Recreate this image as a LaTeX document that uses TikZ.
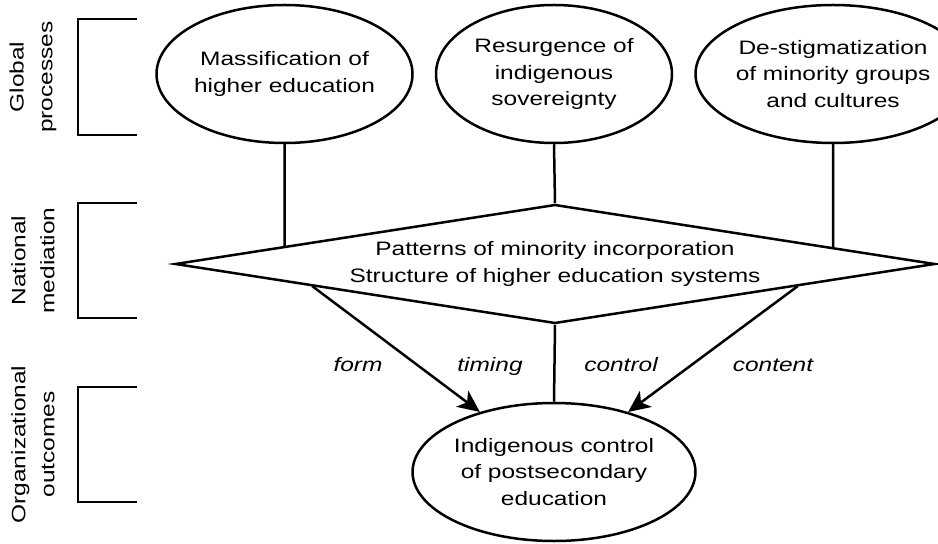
\documentclass[tikz,border=0pt]{standalone}
\usepackage{fontspec}
\setmainfont{Liberation Sans}[FakeStretch=1.26]
\usetikzlibrary{positioning,arrows.meta,shapes.geometric,calc}

\begin{document}
\begin{tikzpicture}[x=1bp,y=-1bp,node distance=21bp,
  oval/.style={draw,ellipse,line width=2.5bp,minimum width=236bp,minimum height=138bp,inner sep=0pt,align=center,font=\fontsize{19.5}{27}\selectfont},
  link/.style={line width=2.5bp},
  arr/.style={-{Stealth[length=22bp,width=20bp,inset=6bp]},line width=2.5bp},
  tag/.style={anchor=base,font=\fontsize{19.5}{27}\selectfont\itshape},
  level/.style={rotate=90,align=center,font=\fontsize{19.5}{29}\selectfont}]
\useasboundingbox (0,0) rectangle (938,544);
\node[oval] (resurgence) at (554,74) {Resurgence of\\indigenous\\sovereignty};
\node[oval,left=of resurgence] (mass) {Massification of\\higher education};
\node[oval,right=of resurgence] (destig) {De-stigmatization\\of minority groups\\and cultures};
\node[draw,diamond,line width=2.5bp,minimum width=760bp,minimum height=119bp,aspect=6.4,inner sep=0pt,align=center,font=\fontsize{19.5}{28}\selectfont] (mediation) at (555,264) {Patterns of minority incorporation\\Structure of higher education systems};
\node[oval] (outcome) at (554,472) {Indigenous control\\of postsecondary\\education};
% level brackets on the left
\foreach \yt/\yb/\txt in {19/135/{Global\\processes},203/318/{National\\mediation},387/502/{Organizational\\outcomes}}{
  \draw[link] (137,\yt) -- (78,\yt) -- (78,\yb) -- (137,\yb);
  \node[level] at (33,{(\yt+\yb)/2}) {\txt};
}
\draw[link] (mass.south) -- (intersection of mass.south--mass.center and mediation.west--mediation.north);
\draw[link] (resurgence.south) -- (mediation.north);
\draw[link] (destig.south) -- (intersection of destig.south--destig.center and mediation.east--mediation.north);
\draw[arr] ($(mediation.west)!0.363!(mediation.south)$) -- (outcome.141);
\draw[link] (mediation.south) -- (outcome.north);
\draw[arr] ($(mediation.east)!0.363!(mediation.south)$) -- (outcome.39);
\node[tag] (form) at (358,372) {form};
\node[tag] (timing) at (490,372) {timing};
\node[tag] (control) at (621,372) {control};
\node[tag] (content) at (773,372) {content};
\end{tikzpicture}
\end{document}
